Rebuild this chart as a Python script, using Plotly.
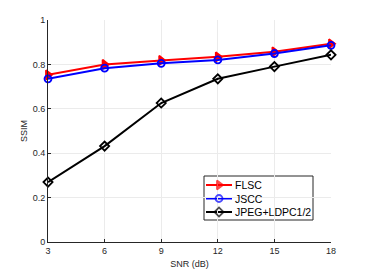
import plotly.graph_objects as go

snr = [3, 6, 9, 12, 15, 18]
flsc = [0.753, 0.800, 0.818, 0.834, 0.857, 0.893]
jscc = [0.735, 0.783, 0.805, 0.820, 0.849, 0.886]
jpeg = [0.270, 0.432, 0.626, 0.735, 0.790, 0.843]
x_ticks = [3, 6, 9, 12, 15, 18]
y_ticks = [0, 0.2, 0.4, 0.6, 0.8, 1]
names = ["FLSC", "JSCC", "JPEG+LDPC1/2"]

colors = ["red", "blue", "black"]
symbols = ["triangle-right", "circle-open", "diamond-open"]
msizes = [8, 7, 7]

# page has an 8px body margin; figure is sized to fill the rest of the window
OFF = 8
W, H = 366 - OFF, 272 - OFF
# plot area in window pixels: x 48..331, y 20..242
PX0, PX1, PY0, PY1 = 48, 331, 20, 242
L, R, T, B = PX0 - OFF, 366 - PX1, PY0 - OFF, 272 - PY1
pw, ph = PX1 - PX0, PY1 - PY0

fig = go.Figure()
for ys, nm, c, s, ms in zip([flsc, jscc, jpeg], names, colors, symbols, msizes):
    fig.add_trace(go.Scatter(x=snr, y=ys, name=nm, mode="lines+markers",
                             line=dict(color=c, width=2),
                             marker=dict(symbol=s, size=ms, color=c, line=dict(width=1.8, color=c)),
                             showlegend=False, cliponaxis=False))

def px(x):
    return (x - PX0) / pw

def py(y):
    return (PY1 - y) / ph

lx0, lx1, ly0, ly1 = 204, 313, 176, 220
fig.add_shape(type="rect", xref="paper", yref="paper", x0=px(lx0), x1=px(lx1), y0=py(ly1), y1=py(ly0),
              line=dict(color="#262626", width=1), fillcolor="white", layer="below")
row_y = [185, 198.5, 212]
for nm, c, ry in zip(names, colors, row_y):
    fig.add_shape(type="line", xref="paper", yref="paper", x0=px(206), x1=px(232), y0=py(ry), y1=py(ry),
                  line=dict(color=c, width=2), layer="below")
    fig.add_annotation(x=px(233), y=py(ry), xref="paper", yref="paper", text=nm, showarrow=False,
                       xanchor="left", yanchor="middle",
                       font=dict(family="Liberation Sans, Arial, sans-serif", size=10.5, color="black"))
fig.add_trace(go.Scatter(x=[219, 219, 219], y=row_y, mode="markers", xaxis="x2", yaxis="y2",
                         marker=dict(symbol=symbols, size=msizes, color=colors,
                                     line=dict(width=1.8, color=colors)),
                         showlegend=False, hoverinfo="skip", cliponaxis=False))

font = dict(family="Liberation Sans, Arial, sans-serif", size=9, color="#262626")
fig.update_layout(
    width=W, height=H,
    margin=dict(l=L, r=R, t=T, b=B, autoexpand=False),
    paper_bgcolor="white", plot_bgcolor="white",
    font=font,
    showlegend=False,
    xaxis2=dict(overlaying="x", range=[PX0, PX1], visible=False, fixedrange=True),
    yaxis2=dict(overlaying="y", range=[PY1, PY0], visible=False, fixedrange=True),
    xaxis=dict(range=[3, 18], tickvals=x_ticks, ticktext=[str(v) for v in x_ticks],
               showgrid=True, gridcolor="#ebebeb", gridwidth=1,
               showline=True, linecolor="#262626", linewidth=1,
               ticks="inside", ticklen=3, tickcolor="#262626",
               zeroline=False, mirror=False, automargin=False,
               tickfont=font,
               title=dict(text="SNR (dB)", standoff=5, font=font)),
    yaxis=dict(range=[0, 1], tickvals=y_ticks, ticktext=["0", "0.2", "0.4", "0.6", "0.8", "1"],
               showgrid=True, gridcolor="#ebebeb", gridwidth=1,
               showline=True, linecolor="#262626", linewidth=1,
               ticks="inside", ticklen=3, tickcolor="#262626",
               zeroline=False, mirror=False, automargin=False,
               tickfont=font,
               title=dict(text="SSIM", standoff=3, font=font)),
)

fig.write_html("out.html")
